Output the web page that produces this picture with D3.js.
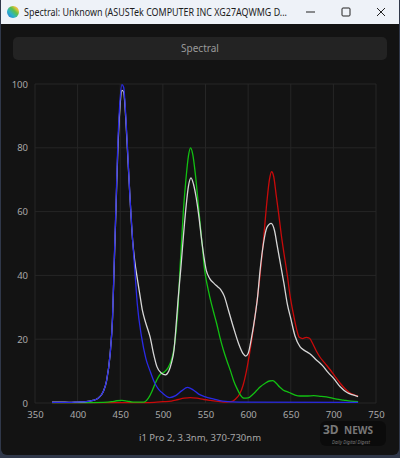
<!DOCTYPE html>
<html>
<head>
<meta charset="utf-8">
<script src="https://cdn.jsdelivr.net/npm/d3@7"></script>
<style>
  html, body { margin: 0; padding: 0; background: #3a4250; }
  svg { display: block; }
  text { font-family: "Noto Sans", "Open Sans", sans-serif; }
</style>
</head>
<body>
<svg id="chart" width="400" height="458"></svg>
<script>
const xTicks = [350, 400, 450, 500, 550, 600, 650, 700, 750];
const yTicks = [0, 20, 40, 60, 80, 100];

const whiteSpd = [[370,0.3],[380,0.3],[390,0.2],[400,0.3],[410,0.4],[418,0.8],[424,1.5],[430,3.5],[434,7],[438,15],[441,27],[443,44],[445,61],[447,78],[449.5,92],[452,98],[454,97.5],[456.5,89],[458.5,79],[461.5,64],[464.5,51],[467,44.5],[470,39],[473,34],[476,29],[480,25],[485,20.7],[489,15.5],[493,11.4],[498,9.4],[503,8.8],[507,10],[510,12.5],[513,16.5],[516,26],[518,33],[521,42],[524,52],[527,61],[530,68],[533,70.6],[536,68.5],[539,64.5],[542,59],[546,50],[551,41.5],[555,39],[560,37.5],[564,36.5],[568,35.5],[572,33.5],[577,29],[583,23.5],[589,18.5],[594,15.5],[597,14.7],[600,15.5],[604,20.5],[608,27],[611,33],[614,41.5],[618,50],[622,55],[627,56.3],[631,54],[634,49.5],[637,45],[642,37.5],[646,31],[650,26.5],[655,21],[661,17.6],[666,16.5],[672,15.5],[680,13.5],[687,11.8],[694,9.5],[700,7.8],[708,5.1],[716,3.3],[722,2.6],[729,2]];

const blueSpd = [[370,0.2],[380,0.2],[390,0.2],[400,0.3],[410,0.4],[418,0.8],[424,1.5],[430,3.5],[434,7],[438,15],[441,27],[443,45],[445,62],[447,80],[449.5,94],[452,99.8],[454,99],[456.5,90],[458.5,80],[461.5,64],[464.5,51],[467,42],[470,31],[475,20.7],[480,14],[485,10],[490,6.5],[495,4.3],[500,3],[508,1.7],[515,2.3],[522,3.8],[529,4.9],[535,4.2],[542,2.8],[549,2],[560,1.2],[570,0.6],[590,0.3],[729,0.2]];

const greenSpd = [[370,0.1],[400,0.1],[430,0.2],[440,0.4],[446,0.7],[452,0.8],[458,0.6],[465,0.3],[478,0.3],[483,1.5],[487,3.5],[490,5.5],[493,7.3],[497,9],[501,9.6],[506,11],[510,13.5],[513,17],[516,24],[518,31],[520,41.7],[524,60],[527,70],[530,77.5],[532.5,80],[535,78],[538,72],[542,61],[546,50],[549,41.7],[552,37],[555,33.3],[559,29],[563,25],[567,20.5],[571,16.6],[575,13.3],[579,10.3],[583,7],[587,4.5],[591,2.5],[595,1.5],[600,1.6],[605,2.6],[610,3.9],[614,5],[620,6.2],[625,6.9],[629,7],[633,6.2],[637,5],[641,4.1],[648,3.3],[655,2.5],[661,2.2],[670,2.2],[677,2.3],[685,2.1],[696,1.7],[704,1.2],[712,0.9],[720,0.6],[729,0.4]];

const redSpd = [[370,0.1],[480,0.1],[490,0.2],[500,0.4],[510,0.6],[518,1.1],[525,1.5],[532,1.7],[540,1.5],[548,1.1],[556,0.8],[565,0.5],[575,0.3],[580,0.4],[585,1.2],[590,2.8],[594,5.5],[598,10],[602,16],[606,23],[610,31],[614,40],[618,51],[622,63],[625,70],[627.5,72.5],[630,71],[633,65],[636,59],[639,52.5],[642,47],[646,40],[649,34],[653,28],[657,23],[660,20.6],[664,20.2],[668,20.6],[672,20.3],[676,18.5],[680,16.3],[684,14.5],[690,12.5],[696,10.5],[702,8.3],[708,6.2],[714,4.4],[720,3],[725,2.5],[729,2.2]];

// white drawn under the blue so the blue rising edge stays visible
const series = [
  { name: "red", data: redSpd, color: "#c80a0a" },
  { name: "green", data: greenSpd, color: "#12c012" },
  { name: "white", data: whiteSpd, color: "#d6d6d6" },
  { name: "blue", data: blueSpd, color: "#2a2ae6" }
];

const svg = d3.select("#chart");

// window frame
svg.append("rect").attr("x", 0).attr("y", 0).attr("width", 400).attr("height", 458).attr("fill", "#30384a");
svg.append("rect").attr("x", 1).attr("y", 0).attr("width", 398).attr("height", 455)
  .attr("rx", 6).attr("fill", "#131313");
svg.append("rect").attr("x", 1).attr("y", 0).attr("width", 398).attr("height", 24).attr("fill", "#eef2f8");

// title bar icon
const grad = svg.append("defs").append("linearGradient").attr("id", "ico")
  .attr("x1", 0).attr("y1", 1).attr("x2", 1).attr("y2", 0);
[["0", "#2d6fd6"], ["0.35", "#2bb3c8"], ["0.6", "#5cc04a"], ["0.8", "#e9c23a"], ["1", "#e0483a"]]
  .forEach(s => grad.append("stop").attr("offset", s[0]).attr("stop-color", s[1]));
svg.append("circle").attr("cx", 13).attr("cy", 12).attr("r", 6).attr("fill", "url(#ico)");

svg.append("text").attr("x", 24).attr("y", 16)
  .attr("font-size", 11.5).attr("fill", "#1c1c1c")
  .attr("textLength", 263).attr("lengthAdjust", "spacingAndGlyphs")
  .text("Spectral: Unknown (ASUSTek COMPUTER INC XG27AQWMG D...");

// caption buttons
svg.append("line").attr("x1", 306).attr("x2", 315).attr("y1", 12).attr("y2", 12)
  .attr("stroke", "#222").attr("stroke-width", 1);
svg.append("rect").attr("x", 342).attr("y", 8).attr("width", 8).attr("height", 8)
  .attr("fill", "none").attr("stroke", "#222").attr("stroke-width", 1).attr("rx", 1);
svg.append("path").attr("d", "M377,8L385,16M385,8L377,16")
  .attr("stroke", "#222").attr("stroke-width", 1);

// tab header
svg.append("rect").attr("x", 13).attr("y", 37).attr("width", 374).attr("height", 23)
  .attr("rx", 5).attr("fill", "#232323");
svg.append("text").attr("x", 200).attr("y", 52).attr("text-anchor", "middle")
  .attr("font-size", 10).attr("fill", "#9a9a9a").text("Spectral");

const x = d3.scaleLinear().domain([350, 750]).range([35, 376]);
const y = d3.scaleLinear().domain([0, 100]).range([403, 84]);

// grid
svg.append("g").selectAll("line").data(xTicks).enter().append("line")
  .attr("x1", d => x(d)).attr("x2", d => x(d))
  .attr("y1", y(100)).attr("y2", y(0))
  .attr("stroke", "#262626").attr("stroke-width", 1);
svg.append("g").selectAll("line").data(yTicks).enter().append("line")
  .attr("x1", x(350)).attr("x2", x(750))
  .attr("y1", d => y(d)).attr("y2", d => y(d))
  .attr("stroke", "#262626").attr("stroke-width", 1);

// axes
const yAxis = svg.append("g")
  .attr("transform", `translate(${x(350)},0)`)
  .call(d3.axisLeft(y).tickValues(yTicks).tickSize(0).tickPadding(7));
const xAxis = svg.append("g")
  .attr("transform", `translate(0,${y(0)})`)
  .call(d3.axisBottom(x).tickValues(xTicks).tickSize(0).tickPadding(8));
[yAxis, xAxis].forEach(a => {
  a.select(".domain").remove();
  a.selectAll("text").attr("fill", "#a8a8a8").attr("font-size", 9.5)
    .attr("font-family", "Noto Sans, sans-serif");
});

// curves
const line = d3.line()
  .x(d => x(d[0]))
  .y(d => y(d[1]))
  .curve(d3.curveMonotoneX);

svg.append("g").selectAll("path").data(series).enter().append("path")
  .attr("d", d => line(d.data))
  .attr("fill", "none")
  .attr("stroke", d => d.color)
  .attr("stroke-width", 1.3);

// footer
svg.append("text").attr("x", 200).attr("y", 441).attr("text-anchor", "middle")
  .attr("font-size", 9.5).attr("fill", "#a8a8a8").text("i1 Pro 2, 3.3nm, 370-730nm");

// watermark
const wm = svg.append("g").attr("opacity", 0.75);
wm.append("rect").attr("x", 320).attr("y", 421).attr("width", 66).attr("height", 25)
  .attr("rx", 6).attr("fill", "#050505").attr("opacity", 0.7);
wm.append("text").attr("x", 323).attr("y", 434).attr("font-size", 12).attr("font-weight", "bold")
  .attr("fill", "#9a9a9a").attr("font-family", "DejaVu Sans, sans-serif").text("3D");
wm.append("text").attr("x", 344).attr("y", 434).attr("font-size", 10).attr("font-weight", "bold")
  .attr("fill", "#9a9a9a").attr("font-family", "DejaVu Sans, sans-serif").text("NEWS");
wm.append("text").attr("x", 332).attr("y", 443.5).attr("font-size", 4.5).attr("font-style", "italic")
  .attr("fill", "#9a9a9a").text("Daily Digital Digest");
</script>
</body>
</html>
